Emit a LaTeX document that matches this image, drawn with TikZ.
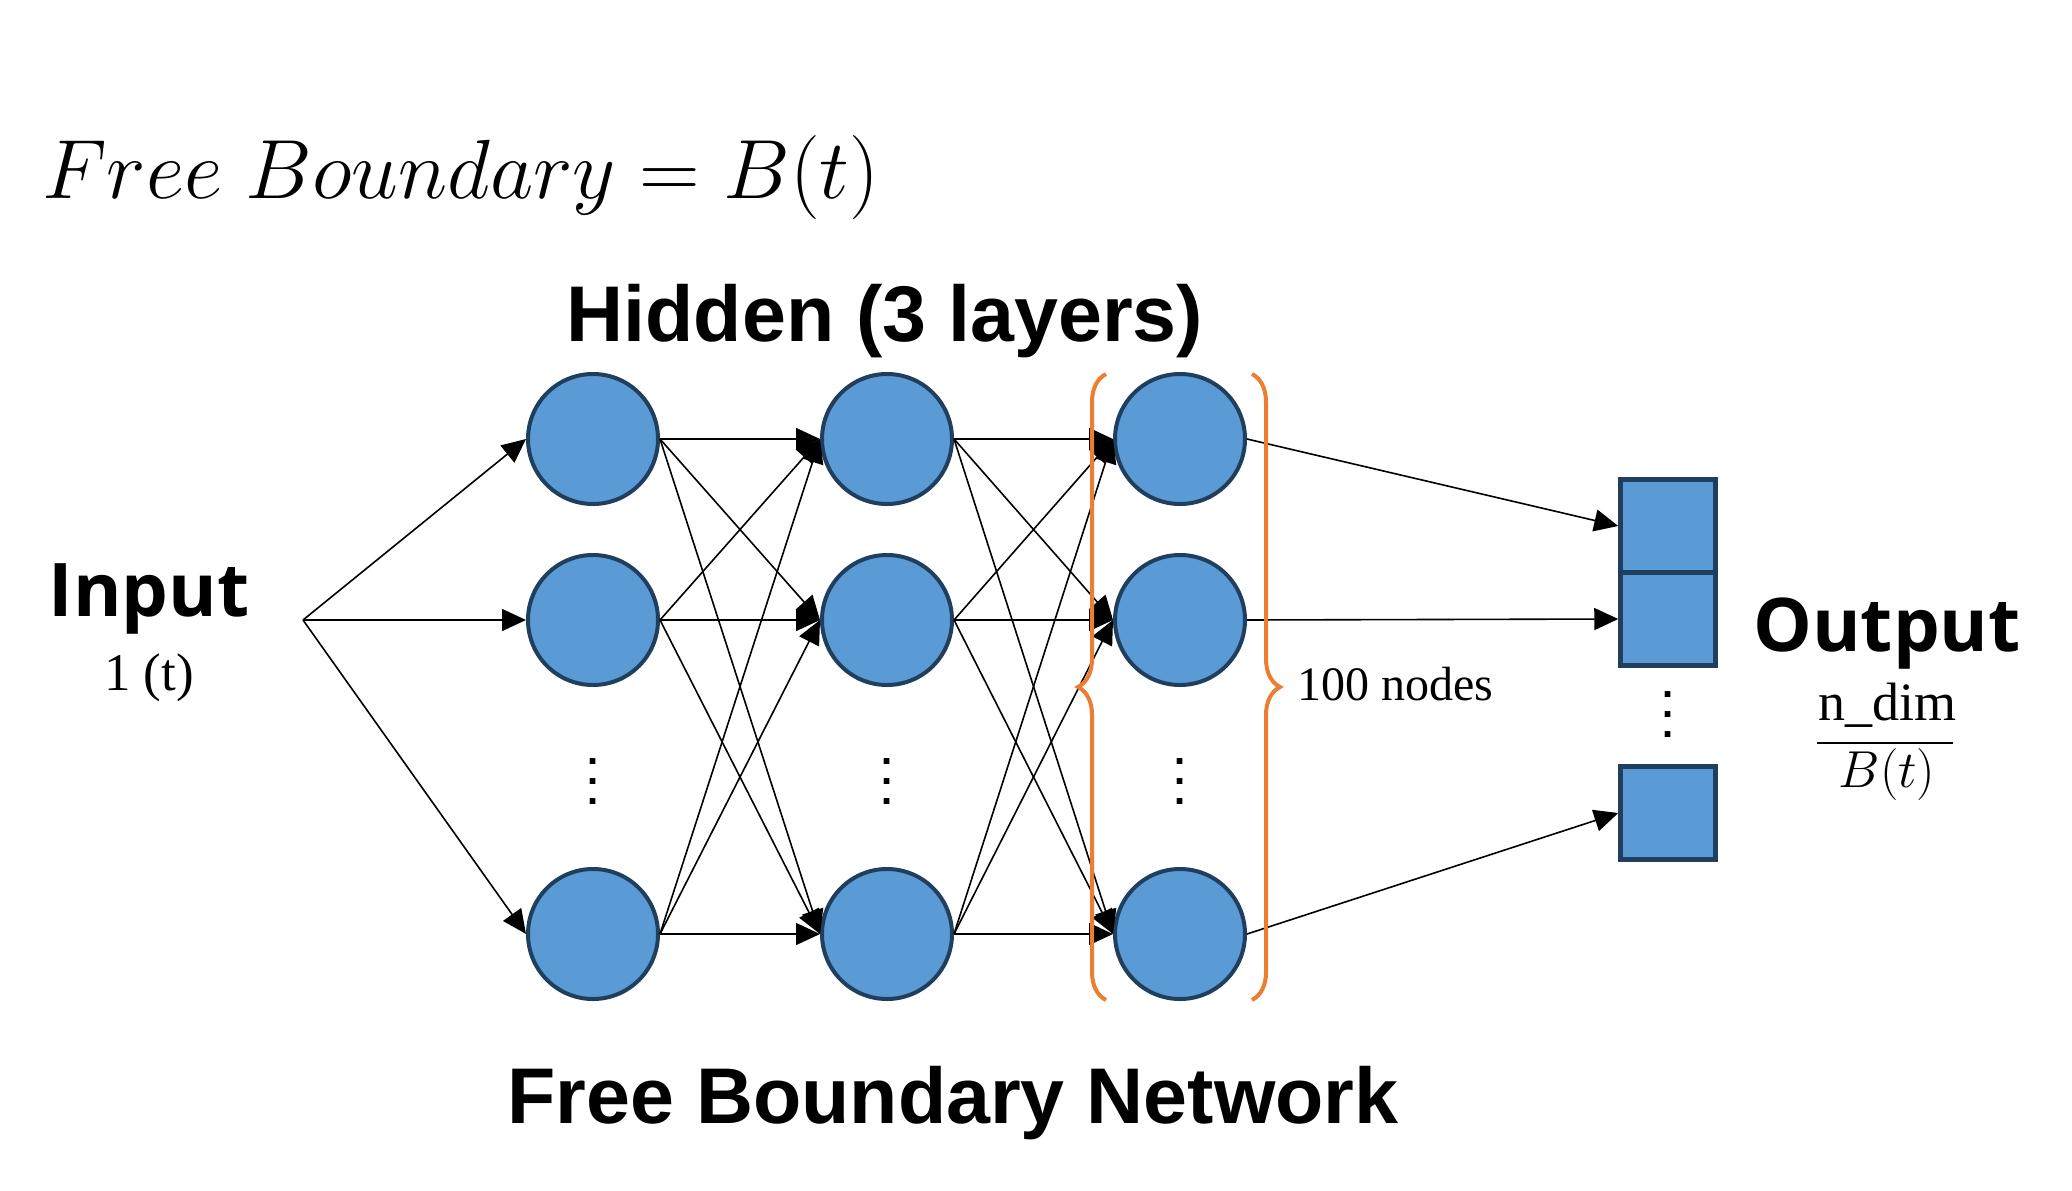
\RequirePackage{fix-cm}
\documentclass[tikz,border=0pt]{standalone}
\usepackage{amsmath}
\usepackage{fontspec}
\setmainfont{Liberation Serif}
\newfontfamily\arialfont{Liberation Sans}
\newfontfamily\yaheifont{Open Sans}
\usetikzlibrary{arrows.meta,decorations.pathreplacing}
\definecolor{nodefill}{HTML}{5B9BD5}
\definecolor{nodeborder}{HTML}{203F5E}
\definecolor{braceorange}{HTML}{ED7D31}
\newcommand{\myvdots}{\vbox{\baselineskip=20pt\lineskiplimit=0pt\hbox{.}\hbox{.}\hbox{.}}}
\begin{document}
\begin{tikzpicture}[x=1pt,y=-1pt,
  neuron/.style={circle, draw=nodeborder, fill=nodefill, line width=4pt, minimum size=130pt, inner sep=0pt},
  outbox/.style={rectangle, draw=nodeborder, fill=nodefill, line width=4.5pt, minimum width=95pt, minimum height=93pt, inner sep=0pt},
  conn/.style={line width=1.6pt, -{Triangle[length=24pt,width=22pt]}},
  orangebrace/.style={draw=braceorange, line width=4pt, decorate, decoration={brace, amplitude=28pt}},
  dotsnode/.style={inner sep=0pt, font=\arialfont\bfseries\fontsize{40}{40}\selectfont},
  bigsans/.style={font=\arialfont\bfseries\fontsize{79}{90}\selectfont},
  yahei/.style={font=\yaheifont\bfseries\fontsize{74}{80}\selectfont},
  serifsmall/.style={font=\fontsize{48}{56}\selectfont}
]
\useasboundingbox (0,0) rectangle (2072,1191);
\fill[white] (0,0) rectangle (2072,1191);

% title
\node[anchor=base west, inner sep=0pt, font=\fontsize{84}{96}\selectfont] (title) at (42,198) {$Free\;Boundary = B(t)$};
\node[anchor=base, inner sep=0pt, bigsans] (hidden) at (885,341) {Hidden (3 layers)};
\node[anchor=base, inner sep=0pt, bigsans] (fbn) at (953,1123) {Free Boundary Network};

% input
\node[anchor=base, inner sep=0pt, yahei] (inputlbl) at (149,616) {Input};
\node[anchor=base, inner sep=0pt, font=\fontsize{53}{60}\selectfont] (inputsub) at (149,690) {1 (t)};
\coordinate (in) at (303,620);

% neurons
\foreach \c/\x in {1/593,2/887,3/1180}{
  \node[neuron] (c\c1) at (\x,439) {};
  \node[neuron] (c\c2) at (\x,620) {};
  \node[neuron] (c\c3) at (\x,934) {};
  \node[dotsnode] (d\c) at (\x,782) {\myvdots};
}

% output boxes
\node[outbox] (o1) at (1668,526) {};
\node[outbox] (o2) at (1668,619) {};
\node[outbox] (o3) at (1668,813) {};
\node[dotsnode] (od) at (1668,715) {\myvdots};
\node[anchor=base, inner sep=0pt, yahei] (outlbl) at (1887,651) {Output};
\node[anchor=base, inner sep=0pt, font=\fontsize{54}{60}\selectfont] (numer) at (1887,720) {n\_dim};
\node[anchor=base, inner sep=0pt, font=\fontsize{52}{60}\selectfont] (denom) at (1887,787) {$B(t)$};
\coordinate (barl) at (1817,743);
\coordinate (barr) at (1953,743);
\draw[line width=2.2pt] (barl) -- (barr);

% connections
\foreach \r in {1,2,3}{
  \draw[conn] (in) -- (c1\r.west);
}
\foreach \a in {1,2,3}{
  \foreach \b in {1,2,3}{
    \draw[conn] (c1\a.east) -- (c2\b.west);
    \draw[conn] (c2\a.east) -- (c3\b.west);
  }
}
\draw[conn] (c31.east) -- (o1.west);
\draw[conn] (c32.east) -- (o2.west);
\draw[conn] (c33.east) -- (o3.west);

% braces
\coordinate (lbb) at (1106,1000);
\coordinate (lbt) at (1106,374);
\coordinate (rbt) at (1252,374);
\coordinate (rbb) at (1252,1000);
\draw[orangebrace] (lbb) -- (lbt);
\draw[orangebrace] (rbt) -- (rbb);
\node[anchor=base west, inner sep=0pt, serifsmall] (nodes100) at (1297,700) {100 nodes};
\end{tikzpicture}
\end{document}
